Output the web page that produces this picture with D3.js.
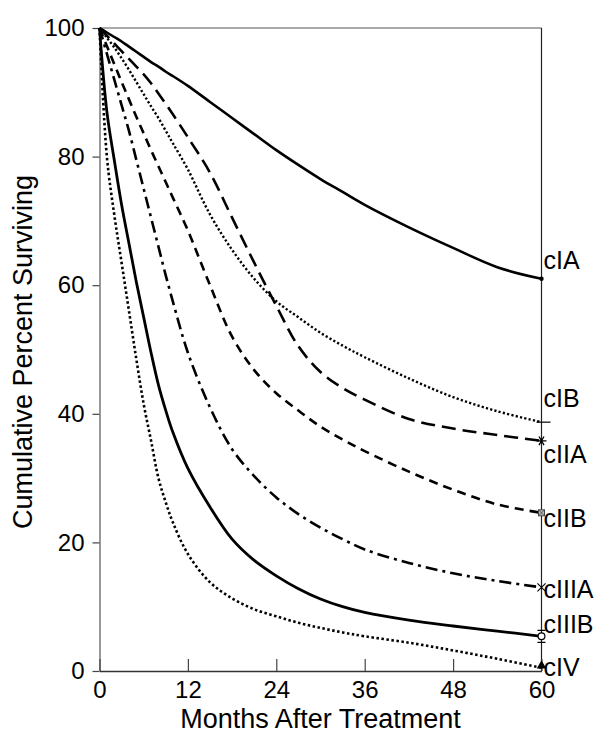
<!DOCTYPE html>
<html>
<head>
<meta charset="utf-8">
<script src="https://cdn.jsdelivr.net/npm/d3@7"></script>
<style>
  html, body { margin: 0; padding: 0; background: #fff; }
  svg { display: block; font-family: "Liberation Sans", Arial, sans-serif; }
</style>
</head>
<body>
<svg id="chart" width="602" height="743"></svg>
<script>
// ---- data ----
const months = [0,1,2,3,4,5,6,7,8,9,10,12,15,18,21,24,27,30,33,36,42,48,54,60];
const stages = ["cIA","cIB","cIIA","cIIB","cIIIA","cIIIB","cIV"];
const cIA   = [100,99.3,98.6,97.9,97.1,96.3,95.5,94.7,94.0,93.2,92.5,91.0,88.5,86.0,83.5,81.0,78.7,76.5,74.5,72.5,69.0,65.8,62.8,61.0];
const cIB   = [100,98.5,97.0,95.3,93.5,91.6,89.7,87.8,86.0,84.0,82.0,78.0,71.0,65.5,61.0,57.5,55.0,52.6,50.6,48.8,45.5,42.6,40.4,38.7];
const cIIA  = [100,98.8,97.6,96.4,95.2,94.0,92.8,91.4,89.8,88.2,86.5,83.0,77.5,70.5,63.5,56.8,50.5,46.5,44.0,42.2,39.2,37.7,36.7,35.8];
const cIIB  = [100,97.2,94.4,91.6,88.9,86.2,83.6,81.0,78.5,76.0,73.5,68.5,60.0,52.0,46.8,43.2,40.5,38.0,36.0,34.2,31.0,28.2,25.9,24.6];
const cIIIA = [100,96.0,92.0,88.0,84.0,79.5,75.0,70.5,66.0,61.5,57.3,49.5,41.0,34.5,30.3,27.0,24.4,22.3,20.5,18.9,16.8,15.2,14.0,13.0];
const cIIIB = [100,87.0,79.5,72.5,66.5,60.5,55.0,49.5,44.5,40.5,37.0,31.5,25.5,20.5,17.2,14.8,12.8,11.2,10.0,9.1,7.9,7.0,6.2,5.4];
const cIV   = [100,80.0,71.0,63.5,56.0,48.5,41.5,35.8,30.0,26.2,23.0,18.2,13.8,11.3,9.6,8.5,7.5,6.7,6.0,5.4,4.4,3.2,1.9,0.5];
const xTicks = [0,12,24,36,48,60];
const yTicks = [0,20,40,60,80,100];
const xTitle = "Months After Treatment";
const yTitle = "Cumulative Percent Surviving";

// ---- styles per series ----
const seriesValues = [cIA, cIB, cIIA, cIIB, cIIIA, cIIIB, cIV];
const styles = {
  cIA:   { w: 2.6, dash: null,          marker: "dot",       label: 269 },
  cIB:   { w: 2.4, dash: "2.2,2.2",     marker: "hbar",      label: 407 },
  cIIA:  { w: 2.6, dash: "14,7",        marker: "asterisk",  label: 463 },
  cIIB:  { w: 2.6, dash: "9,6",         marker: "xsquare",   label: 527 },
  cIIIA: { w: 2.6, dash: "12,5,3,5",    marker: "times",     label: 598 },
  cIIIB: { w: 2.8, dash: null,          marker: "hourglass", label: 633 },
  cIV:   { w: 2.6, dash: "2.5,2.5",     marker: "triangle",  label: 676 }
};

const svg = d3.select("#chart");
const x = d3.scaleLinear().domain([0, 60]).range([99.5, 541.5]);
const y = d3.scaleLinear().domain([0, 100]).range([671, 28]);

// frame: top and right
svg.append("line").attr("x1", x(0)).attr("x2", x(60)).attr("y1", y(100)).attr("y2", y(100))
  .attr("stroke", "#555").attr("stroke-width", 1.2);
svg.append("line").attr("x1", x(60)).attr("x2", x(60)).attr("y1", y(100)).attr("y2", y(0))
  .attr("stroke", "#222").attr("stroke-width", 1.2);

// axes
const yAxis = d3.axisLeft(y).tickValues(yTicks).tickSizeInner(7).tickSizeOuter(0).tickPadding(8);
const gy = svg.append("g").attr("transform", `translate(${x(0)},0)`).call(yAxis);
gy.selectAll("text").attr("font-size", 24).attr("font-family", "Liberation Sans, Arial, sans-serif").attr("fill", "#000");
gy.selectAll("line").attr("stroke", "#444").attr("stroke-width", 1.2);
gy.select(".domain").attr("stroke", "#555").attr("stroke-width", 1.2);

const xAxis = d3.axisBottom(x).tickValues(xTicks).tickSizeInner(-12).tickSizeOuter(0).tickPadding(10);
const gx = svg.append("g").attr("transform", `translate(0,${y(0)})`).call(xAxis);
gx.selectAll("text").attr("font-size", 24).attr("font-family", "Liberation Sans, Arial, sans-serif").attr("fill", "#000");
gx.selectAll("line").attr("stroke", "#444").attr("stroke-width", 1.2);
gx.select(".domain").attr("stroke", "#333").attr("stroke-width", 1.4);

// titles
svg.append("text").attr("x", (x(0) + x(60)) / 2).attr("y", 728)
  .attr("text-anchor", "middle").attr("font-size", 27).attr("fill", "#000").text(xTitle);
svg.append("text").attr("transform", `translate(32,${352}) rotate(-90)`)
  .attr("text-anchor", "middle").attr("font-size", 27).attr("fill", "#000").text(yTitle);

// curves
const line = d3.line().x(d => x(d[0])).y(d => y(d[1])).curve(d3.curveCatmullRom.alpha(0.5));
stages.forEach((s, i) => {
  const pts = months.map((m, j) => [m, seriesValues[i][j]]);
  const st = styles[s];
  svg.append("path").datum(pts).attr("d", line)
    .attr("fill", "none").attr("stroke", "#000").attr("stroke-width", st.w)
    .attr("stroke-dasharray", st.dash)
    .attr("stroke-linejoin", "round");
});

// end markers
stages.forEach((s, i) => {
  const vals = seriesValues[i];
  const px = x(months[months.length - 1]);
  const py = y(vals[vals.length - 1]);
  const g = svg.append("g").attr("transform", `translate(${px},${py})`);
  const mk = styles[s].marker;
  if (mk === "dot") {
    g.append("circle").attr("r", 2.2).attr("fill", "#000");
  } else if (mk === "hbar") {
    g.append("line").attr("x1", -5).attr("x2", 9).attr("stroke", "#000").attr("stroke-width", 1.2);
  } else if (mk === "asterisk") {
    g.append("path").attr("d", d3.symbol(d3.symbolAsterisk, 70)()).attr("transform", "rotate(90)")
      .attr("stroke", "#000").attr("stroke-width", 1.3).attr("fill", "none");
  } else if (mk === "xsquare") {
    g.append("rect").attr("x", -3).attr("y", -3).attr("width", 6).attr("height", 6)
      .attr("fill", "#bbb").attr("stroke", "#444").attr("stroke-width", 1);
    g.append("path").attr("d", "M-3,-3L3,3M-3,3L3,-3").attr("stroke", "#444").attr("stroke-width", 0.8);
  } else if (mk === "times") {
    g.append("path").attr("d", d3.symbol(d3.symbolTimes, 45)())
      .attr("stroke", "#000").attr("stroke-width", 1.1).attr("fill", "none");
  } else if (mk === "hourglass") {
    g.append("path").attr("d", "M-4,-6H4M-4,6H4").attr("stroke", "#000").attr("stroke-width", 1.2);
    g.append("circle").attr("r", 3.4).attr("fill", "#fff").attr("stroke", "#000").attr("stroke-width", 1.2);
  } else if (mk === "triangle") {
    g.append("path").attr("d", d3.symbol(d3.symbolTriangle, 40)()).attr("transform", "translate(0,-2)")
      .attr("fill", "#000");
  }
});

// labels
stages.forEach(s => {
  svg.append("text").attr("x", 543.5).attr("y", styles[s].label)
    .attr("font-size", 25).attr("fill", "#000").text(s);
});
</script>
</body>
</html>
